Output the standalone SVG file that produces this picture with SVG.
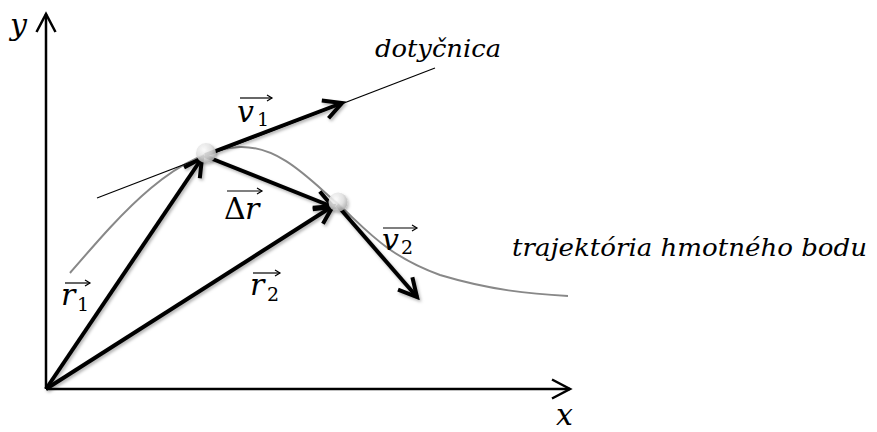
<svg xmlns="http://www.w3.org/2000/svg" width="877" height="432" viewBox="0 0 877 432">
<style>
.lbl{font-family:"DejaVu Serif","Liberation Serif",serif;font-style:italic;fill:#000}
.big{font-size:24px}
.sym{font-size:30px}
.sub{font-size:19px;font-style:normal}
.vec{stroke:#000;stroke-width:4;fill:none;marker-end:url(#open)}
.axis{stroke:#000;stroke-width:2.5;fill:none;marker-end:url(#openThin)}
.ov{stroke:#000;stroke-width:1.2;fill:none}
</style>
<defs>
<marker id="open" markerUnits="userSpaceOnUse" markerWidth="28" markerHeight="28" viewBox="0 0 28 28" refX="24" refY="14" orient="auto">
<path d="M6,4.5 L24,14 L6,23.5" fill="none" stroke="#000" stroke-width="4" stroke-linejoin="miter"/>
</marker>
<marker id="openThin" markerUnits="userSpaceOnUse" markerWidth="28" markerHeight="28" viewBox="0 0 28 28" refX="24" refY="14" orient="auto">
<path d="M6,4.5 L24,14 L6,23.5" fill="none" stroke="#000" stroke-width="2.5"/>
</marker>
<radialGradient id="ball" cx="0.4" cy="0.35" r="0.7">
<stop offset="0" stop-color="#ffffff"/>
<stop offset="0.55" stop-color="#e2e2e2"/>
<stop offset="1" stop-color="#a8a8a8"/>
</radialGradient>
<filter id="sh" x="-20%" y="-20%" width="140%" height="140%">
<feDropShadow dx="1.5" dy="2" stdDeviation="1.8" flood-color="#000" flood-opacity="0.3"/>
</filter>
</defs>
<rect width="877" height="432" fill="#fff"/>

<g id="axes">
<line class="axis" x1="46" y1="389" x2="46" y2="14"/>
<line class="axis" x1="46" y1="389" x2="570" y2="389"/>
<text class="lbl sym" x="10" y="35">y</text>
<text class="lbl sym" x="556" y="425">x</text>
</g>

<g id="trajectory">
<path d="M70,273 C120,215 175,150 240,147 C280,146 310,180 337,203 C365,228 385,255 440,275 C490,290 530,294 568,296" fill="none" stroke="#888" stroke-width="2"/>
<text class="lbl big" x="512" y="256" textLength="355" lengthAdjust="spacingAndGlyphs">trajektória hmotného bodu</text>
</g>

<g id="tangent">
<line x1="97" y1="198" x2="435" y2="68" stroke="#000" stroke-width="1.1"/>
<text class="lbl big" x="375" y="57" textLength="126" lengthAdjust="spacingAndGlyphs">dotyčnica</text>
</g>

<g id="connectors" filter="url(#sh)">
<line id="r1" class="vec" x1="46" y1="389" x2="202" y2="158"/>
<line id="r2" class="vec" x1="46" y1="389" x2="333" y2="206"/>
<line id="dr" class="vec" x1="205" y1="156" x2="333" y2="207"/>
<line id="v1" class="vec" x1="205" y1="155" x2="342" y2="103"/>
<line id="v2" class="vec" x1="337" y1="205" x2="417" y2="297"/>
</g>

<g id="point1">
<circle cx="206" cy="153" r="10" fill="url(#ball)" fill-opacity="0.85" filter="url(#sh)"/>
</g>
<g id="point2">
<circle cx="338" cy="202" r="9.5" fill="url(#ball)" fill-opacity="0.85" filter="url(#sh)"/>
</g>

<g id="labels">
<g id="lbl-v1">
<text class="lbl sym" x="237" y="122">v</text>
<text class="lbl sub" x="257" y="126">1</text>
<line class="ov" x1="240" y1="98" x2="272" y2="98"/>
<path class="ov" d="M267,95 L272,98 L267,101"/>
</g>
<g id="lbl-dr">
<text class="lbl sym" x="224" y="219" style="font-style:normal">Δ</text>
<text class="lbl sym" x="245" y="219">r</text>
<line class="ov" x1="227" y1="191" x2="262" y2="191"/>
<path class="ov" d="M257,188 L262,191 L257,194"/>
</g>
<g id="lbl-r1">
<text class="lbl sym" x="61" y="305">r</text>
<text class="lbl sub" x="77" y="311">1</text>
<line class="ov" x1="65" y1="283" x2="90" y2="283"/>
<path class="ov" d="M85,280 L90,283 L85,286"/>
</g>
<g id="lbl-r2">
<text class="lbl sym" x="250" y="295">r</text>
<text class="lbl sub" x="267" y="301">2</text>
<line class="ov" x1="253" y1="273" x2="280" y2="273"/>
<path class="ov" d="M275,270 L280,273 L275,276"/>
</g>
<g id="lbl-v2">
<text class="lbl sym" x="382" y="250">v</text>
<text class="lbl sub" x="401" y="254">2</text>
<line class="ov" x1="383" y1="228" x2="417" y2="228"/>
<path class="ov" d="M412,225 L417,228 L412,231"/>
</g>
</g>
</svg>
